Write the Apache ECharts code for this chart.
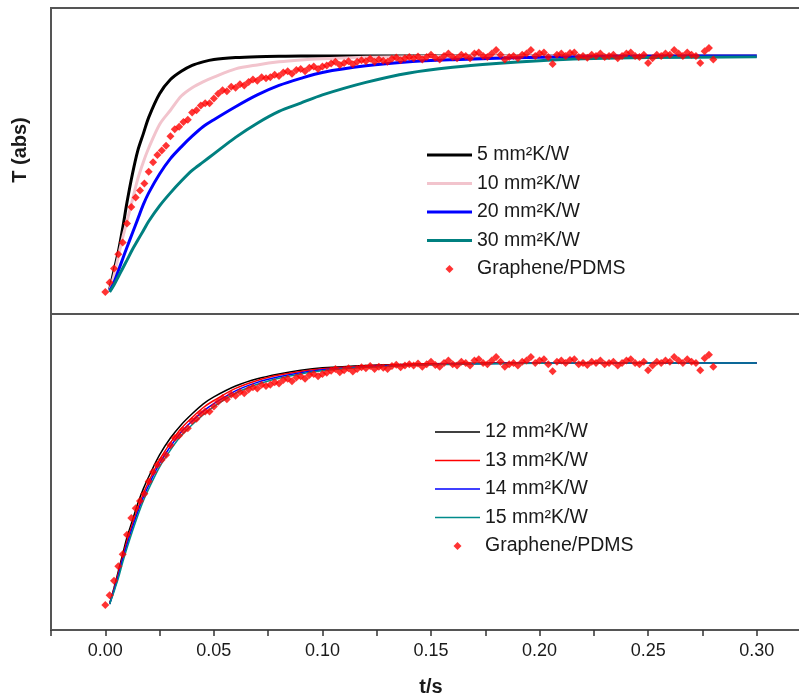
<!DOCTYPE html>
<html>
<head>
<meta charset="utf-8">
<script src="https://cdn.jsdelivr.net/npm/echarts@6/dist/echarts.min.js"></script>
<style>
  html, body { margin: 0; padding: 0; background: #ffffff; }
  #chart { width: 799px; height: 700px; }
</style>
</head>
<body>
<div id="chart"></div>
<script>
// Normalised temperature response T(t) for several interface resistances
// plus the measured Graphene/PDMS transient.

// Time points of the simulated curves (s)
const curveTimes = [0.002, 0.004, 0.006, 0.008, 0.010, 0.0125, 0.015, 0.0175, 0.020, 0.025,
                    0.030, 0.035, 0.040, 0.045, 0.050, 0.060, 0.070, 0.080, 0.090, 0.100,
                    0.120, 0.140, 0.160, 0.180, 0.200, 0.220, 0.250, 0.300];

// Upper panel: coarse resistance sweep
const r5  = [0.01, 0.09, 0.17, 0.27, 0.38, 0.50, 0.60, 0.67, 0.74, 0.84, 0.90, 0.935, 0.96, 0.975, 0.985, 0.993, 0.997, 0.999, 1, 1, 1, 1, 1, 1, 1, 1, 1, 1];
const r10 = [0.005, 0.07, 0.15, 0.23, 0.30, 0.39, 0.48, 0.55, 0.61, 0.71, 0.77, 0.83, 0.865, 0.89, 0.91, 0.945, 0.962, 0.975, 0.983, 0.988, 0.994, 0.997, 0.999, 1, 1, 1, 1, 1];
const r20 = [0.005, 0.04, 0.09, 0.14, 0.19, 0.25, 0.31, 0.37, 0.42, 0.50, 0.565, 0.615, 0.66, 0.70, 0.73, 0.785, 0.835, 0.875, 0.905, 0.93, 0.958, 0.975, 0.984, 0.99, 0.994, 0.997, 0.999, 1];
const r30 = [0, 0.03, 0.065, 0.10, 0.135, 0.18, 0.22, 0.26, 0.30, 0.365, 0.42, 0.47, 0.515, 0.55, 0.585, 0.655, 0.715, 0.765, 0.80, 0.835, 0.888, 0.928, 0.952, 0.968, 0.98, 0.988, 0.993, 0.996];

// Lower panel: fine resistance sweep
const r12 = [0.005, 0.07, 0.14, 0.21, 0.28, 0.35, 0.42, 0.48, 0.53, 0.62, 0.69, 0.745, 0.79, 0.83, 0.86, 0.905, 0.935, 0.955, 0.97, 0.98, 0.99, 0.995, 0.998, 1, 1, 1, 1, 1];
const r13 = [0.005, 0.065, 0.13, 0.20, 0.265, 0.335, 0.40, 0.46, 0.51, 0.60, 0.67, 0.73, 0.775, 0.815, 0.845, 0.895, 0.928, 0.95, 0.965, 0.976, 0.988, 0.994, 0.997, 0.999, 1, 1, 1, 1];
const r14 = [0.004, 0.06, 0.12, 0.19, 0.25, 0.32, 0.385, 0.445, 0.495, 0.585, 0.655, 0.715, 0.76, 0.80, 0.832, 0.885, 0.92, 0.943, 0.96, 0.972, 0.985, 0.992, 0.996, 0.998, 0.999, 1, 1, 1];
const r15 = [0.003, 0.055, 0.11, 0.175, 0.235, 0.305, 0.37, 0.43, 0.48, 0.57, 0.64, 0.70, 0.745, 0.785, 0.82, 0.875, 0.912, 0.937, 0.955, 0.968, 0.982, 0.99, 0.994, 0.997, 0.999, 1, 1, 1];

// Measured Graphene/PDMS response, sampled every 2 ms from t = 0
const sampleInterval = 0.002;
const measured = [
  0.00, 0.04, 0.10, 0.16, 0.21, 0.29, 0.36, 0.40, 0.43, 0.46,
  0.51, 0.55, 0.58, 0.60, 0.62, 0.66, 0.69, 0.70, 0.72, 0.73,
  0.76, 0.77, 0.79, 0.80, 0.80, 0.82, 0.84, 0.855, 0.85, 0.87,
  0.865, 0.88, 0.875, 0.89, 0.90, 0.895, 0.91, 0.905, 0.91, 0.92,
  0.915, 0.93, 0.935, 0.925, 0.94, 0.945, 0.935, 0.95, 0.955, 0.945,
  0.955, 0.960, 0.968, 0.975, 0.962, 0.970, 0.978, 0.965, 0.975, 0.982,
  0.978, 0.988, 0.975, 0.985, 0.980, 0.975, 0.988, 0.993, 0.982, 0.990,
  0.995,
  0.990, 0.998, 0.985, 0.995, 1.005, 0.992, 0.985, 1.000, 1.010, 0.995,
  0.990, 1.005, 1.000, 0.990, 1.010, 1.015, 1.000, 0.995, 1.010, 1.025,
  1.005, 0.985, 0.995, 1.000, 0.990, 1.005, 1.010, 1.025, 1.000, 1.010,
  1.015, 0.995, 0.966, 1.005, 1.010, 1.000, 1.012, 1.015, 0.995, 1.000,
  0.992, 1.005, 1.000, 1.010, 0.995, 1.000, 1.005, 0.990, 1.000, 1.010,
  1.015, 1.000, 0.995, 1.005, 0.970, 0.990, 1.005, 1.000, 1.010, 1.005,
  1.025, 1.010, 1.000, 1.015, 1.005, 1.000, 0.970, 1.020, 1.034, 0.985
];

// x-axis tick labels (s)
const tickLabels = ['0.00', '0.05', '0.10', '0.15', '0.20', '0.25', '0.30'];

const upperNames = ['5 mm²K/W', '10 mm²K/W', '20 mm²K/W', '30 mm²K/W'];
const upperValues = [r5, r10, r20, r30];
const upperColors = ['#000000', '#f2c4cd', '#0000ff', '#008080'];

const lowerNames = ['12 mm²K/W', '13 mm²K/W', '14 mm²K/W', '15 mm²K/W'];
const lowerValues = [r12, r13, r14, r15];
const lowerColors = ['#000000', '#ff0000', '#0000ff', '#008b8b'];

const dataName = 'Graphene/PDMS';
const FONT = '"Liberation Sans", Arial, sans-serif';

const pairs = (xs, ys) => xs.map((x, i) => [x, ys[i]]);
const measuredPoints = measured.map((v, i) => [+(i * sampleInterval).toFixed(4), v]);

function curveSeries(name, values, color, width, axisIdx) {
  return {
    type: 'line', name: name,
    xAxisIndex: axisIdx, yAxisIndex: axisIdx,
    data: pairs(curveTimes, values),
    smooth: 0.3,
    symbol: 'none',
    lineStyle: { color: color, width: width },
    itemStyle: { color: color },
    z: 2
  };
}

function scatterSeries(axisIdx) {
  return {
    type: 'scatter', name: dataName,
    xAxisIndex: axisIdx, yAxisIndex: axisIdx,
    data: measuredPoints,
    symbol: 'diamond', symbolSize: 8,
    itemStyle: { color: '#ff0000' },
    z: 3
  };
}

const series = [];
upperNames.forEach((n, i) => series.push(curveSeries(n, upperValues[i], upperColors[i], 3, 0)));
series.push(scatterSeries(0));
lowerNames.forEach((n, i) => series.push(curveSeries(n, lowerValues[i], lowerColors[i], 1.5, 1)));
series.push(scatterSeries(1));

const STEP = 0.025;
function xLabel(v) {
  const k = Math.round(v / STEP);
  if (k % 2 !== 0) return '';
  const s = (k * STEP).toFixed(2);
  return tickLabels.indexOf(s) >= 0 ? s : '';
}

const xBase = {
  type: 'value', min: -0.025, max: 0.325, interval: STEP,
  splitLine: { show: false }
};

// Legend keys: a flat bar for each curve, a small diamond for the measurement
const diamondIcon = 'path://M0,-4L4,0L0,4L-4,0Z';
const barIcon = (h) => 'path://M0,0L45,0L45,' + h + 'L0,' + h + 'Z';

function legendBlock(names, lineWidth, left, top) {
  return {
    orient: 'vertical', left: left, top: top, padding: 0,
    itemWidth: 45, itemHeight: 8, itemGap: 0.5,
    selectedMode: false,
    data: names.map(n => ({ name: n, icon: barIcon(lineWidth) }))
               .concat([{ name: dataName, icon: diamondIcon }]),
    textStyle: { fontFamily: FONT, fontSize: 19.5, color: '#1a1a1a', lineHeight: 28 }
  };
}

// The plotting area runs past the right edge of the canvas, so the
// right-hand frame line stays out of view.
const gridBase = { left: 51, width: 760, outerBoundsMode: 'none', containLabel: false };

const option = {
  animation: false,
  backgroundColor: '#ffffff',
  grid: [
    Object.assign({}, gridBase, { top: 8, height: 306, show: true, borderColor: '#555555', borderWidth: 2, backgroundColor: 'transparent' }),
    Object.assign({}, gridBase, { top: 314, height: 316 })
  ],
  xAxis: [
    Object.assign({}, xBase, {
      gridIndex: 0,
      axisLine: { show: false }, axisTick: { show: false }, axisLabel: { show: false }
    }),
    Object.assign({}, xBase, {
      gridIndex: 1,
      axisLine: { show: true, onZero: false, lineStyle: { color: '#555555', width: 2 } },
      axisTick: { show: true, inside: false, length: 6, lineStyle: { color: '#333333', width: 1.5 } },
      axisLabel: { show: true, margin: 12, formatter: xLabel, fontFamily: FONT, fontSize: 18, color: '#1a1a1a', hideOverlap: false, showMinLabel: true, showMaxLabel: true },
      name: 't/s', nameLocation: 'middle', nameGap: 47,
      nameTextStyle: { fontFamily: FONT, fontSize: 20, fontWeight: 'bold', color: '#1a1a1a' }
    })
  ],
  yAxis: [
    {
      type: 'value', gridIndex: 0, min: -0.093, max: 1.203,
      axisLine: { show: false }, axisTick: { show: false }, axisLabel: { show: false }, splitLine: { show: false }
    },
    {
      type: 'value', gridIndex: 1, min: -0.1033, max: 1.2025,
      axisLine: { show: true, onZero: false, lineStyle: { color: '#555555', width: 2 } },
      axisTick: { show: false }, axisLabel: { show: false }, splitLine: { show: false }
    }
  ],
  legend: [
    legendBlock(upperNames, 3, 427, 141),
    legendBlock(lowerNames, 1.5, 435, 418)
  ],
  graphic: [{
    type: 'text', x: 20, y: 150, rotation: Math.PI / 2,
    style: {
      text: 'T (abs)', fontFamily: FONT, fontSize: 20, fontWeight: 'bold',
      fill: '#1a1a1a', align: 'center', verticalAlign: 'middle'
    }
  }],
  series: series
};

const chart = echarts.init(document.getElementById('chart'), null, { renderer: 'canvas' });
chart.setOption(option);
</script>
</body>
</html>
